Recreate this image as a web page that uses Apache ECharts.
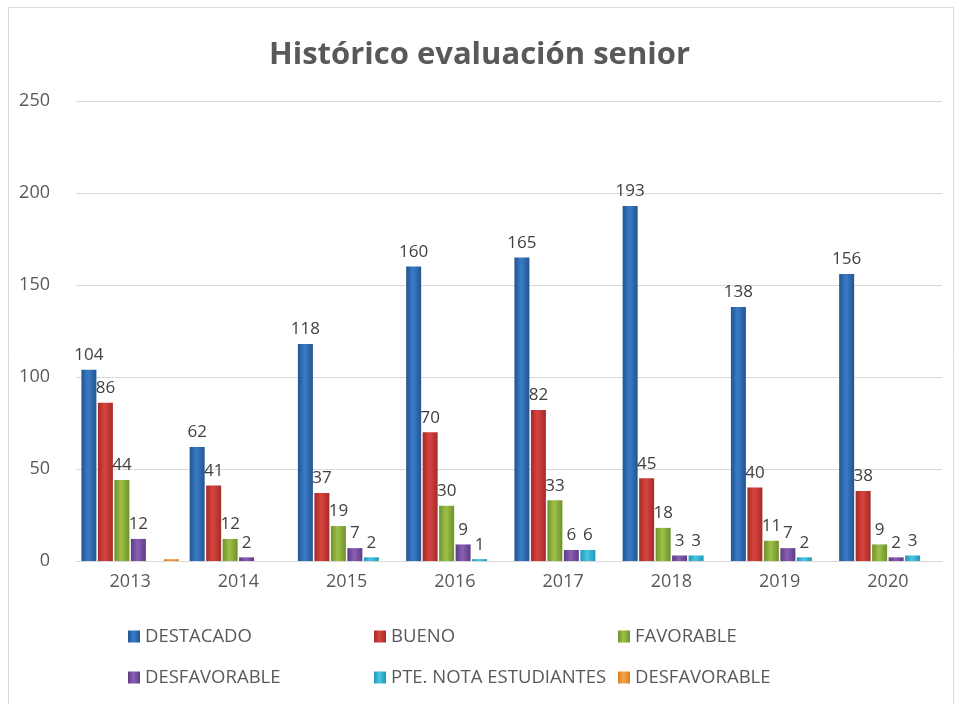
<!DOCTYPE html>
<html>
<head>
<meta charset="utf-8">
<script src="https://cdn.jsdelivr.net/npm/echarts@6/dist/echarts.min.js"></script>
<style>
  html, body { margin: 0; padding: 0; background: #fff; }
  #chart { width: 959px; height: 704px; }
</style>
</head>
<body>
<div id="chart"></div>
<script>
// chart values
const years = ['2013', '2014', '2015', '2016', '2017', '2018', '2019', '2020'];
const destacado = [104, 62, 118, 160, 165, 193, 138, 156];
const bueno = [86, 41, 37, 70, 82, 45, 40, 38];
const favorable = [44, 12, 19, 30, 33, 18, 11, 9];
const desfavorable = [12, 2, 7, 9, 6, 3, 7, 2];
const pteNota = [null, null, 2, 1, 6, 3, 2, 3];
const desfavorable2 = [1, null, null, null, null, null, null, null];
const yTicks = { min: 0, max: 250, interval: 50 };

const textColor = '#595959';
const font = 'Open Sans';

// bar face with a little shading, like the original 3D look
const shade = (dark, light) => new echarts.graphic.LinearGradient(0, 0, 1, 0, [
  { offset: 0, color: dark },
  { offset: 0.45, color: light },
  { offset: 1, color: dark }
]);

const seriesDefs = [
  { name: 'DESTACADO', data: destacado, dark: '#23548f', light: '#3a7cc9' },
  { name: 'BUENO', data: bueno, dark: '#a42b27', light: '#d8443f' },
  { name: 'FAVORABLE', data: favorable, dark: '#6f9128', light: '#9cc24a' },
  { name: 'DESFAVORABLE', data: desfavorable, dark: '#5e3a85', light: '#8a60b4' },
  { name: 'PTE. NOTA ESTUDIANTES', data: pteNota, dark: '#1f97b8', light: '#4cc6e4' },
  // second DESFAVORABLE series, trailing space keeps it a separate legend item
  { name: 'DESFAVORABLE ', data: desfavorable2, dark: '#d97f1f', light: '#f6a54a', noLabel: true }
];

const chart = echarts.init(document.getElementById('chart'));

const legendText = { color: textColor, fontSize: 18.5, fontFamily: font };
const legendCol = (left, names) => ({
  orient: 'vertical',
  left: left,
  top: 627,
  padding: 0,
  itemGap: 22,
  itemWidth: 12,
  itemHeight: 12,
  icon: 'rect',
  data: names,
  textStyle: legendText,
  formatter: n => n.trim()
});

const option = {
  backgroundColor: '#fff',
  animation: false,
  title: {
    text: 'Histórico evaluación senior',
    left: 'center',
    top: 35,
    textStyle: { color: textColor, fontSize: 31, fontWeight: 'bold', fontFamily: font }
  },
  graphic: [{
    type: 'rect',
    shape: { x: 8.5, y: 7.5, width: 945, height: 720 },
    style: { fill: 'none', stroke: '#d9d9d9', lineWidth: 1 },
    silent: true
  }],
  legend: [
    legendCol(128, ['DESTACADO', 'DESFAVORABLE']),
    legendCol(374, ['BUENO', 'PTE. NOTA ESTUDIANTES']),
    legendCol(618, ['FAVORABLE', 'DESFAVORABLE '])
  ],
  grid: { left: 76, right: 17, top: 101, bottom: 143 },
  xAxis: {
    type: 'category',
    data: years,
    axisLine: { lineStyle: { color: '#d9d9d9', width: 1 } },
    axisTick: { show: false },
    axisLabel: { color: textColor, fontSize: 18, fontFamily: font, margin: 12 }
  },
  yAxis: {
    type: 'value',
    min: yTicks.min,
    max: yTicks.max,
    interval: yTicks.interval,
    axisLine: { show: false },
    axisTick: { show: false },
    splitLine: { lineStyle: { color: '#d9d9d9', width: 1 } },
    axisLabel: { color: textColor, fontSize: 18, fontFamily: font, margin: 26 }
  },
  series: seriesDefs.map(s => ({
    name: s.name,
    type: 'bar',
    data: s.data,
    barGap: '10%',
    barCategoryGap: '10%',
    itemStyle: { color: shade(s.dark, s.light) },
    label: {
      show: !s.noLabel,
      position: 'top',
      distance: 6,
      color: '#404040',
      fontSize: 17,
      fontFamily: font
    }
  }))
};

chart.setOption(option);
</script>
</body>
</html>
